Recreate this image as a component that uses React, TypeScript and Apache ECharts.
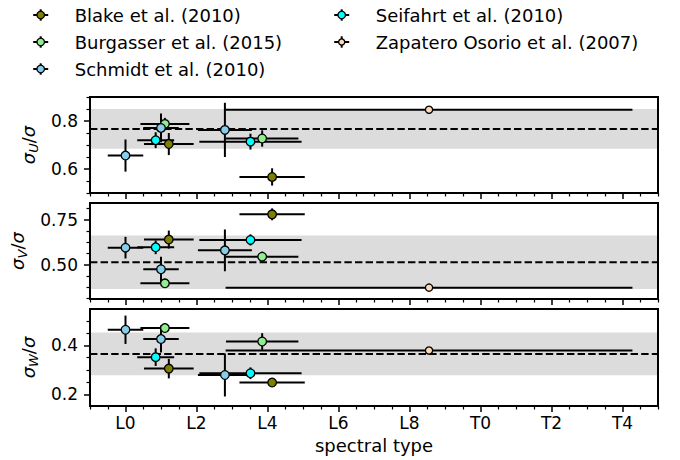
import React, { useEffect, useRef } from "react";
import * as echarts from "echarts";

// ---------------- data ----------------
const SOURCES = [
  "Blake et al. (2010)",
  "Burgasser et al. (2015)",
  "Schmidt et al. (2010)",
  "Seifahrt et al. (2010)",
  "Zapatero Osorio et al. (2007)",
];

// spectral type coded as L0 = 0, L2 = 2, ..., T0 = 10, T4 = 14
const blakeSpT = [1.22, 4.13];
const blakeSpTErr = [0.7, 0.92];
const blakeU = [0.704, 0.567];
const blakeUErr = [0.046, 0.036];
const blakeV = [0.641, 0.781];
const blakeVErr = [0.05, 0.033];
const blakeW = [0.305, 0.248];
const blakeWErr = [0.04, 0.015];

const burgasserSpT = [1.11, 3.85];
const burgasserSpTErr = [0.69, 1.02];
const burgasserU = [0.788, 0.727];
const burgasserUErr = [0.025, 0.034];
const burgasserV = [0.398, 0.546];
const burgasserVErr = [0.025, 0.028];
const burgasserW = [0.471, 0.416];
const burgasserWErr = [0.02, 0.034];

const schmidtSpT = [0.0, 1.0, 2.8];
const schmidtSpTErr = [0.5, 0.5, 0.76];
const schmidtU = [0.656, 0.771, 0.763];
const schmidtUErr = [0.067, 0.06, 0.113];
const schmidtV = [0.596, 0.476, 0.581];
const schmidtVErr = [0.06, 0.07, 0.116];
const schmidtW = [0.464, 0.426, 0.279];
const schmidtWErr = [0.058, 0.055, 0.088];

const seifahrtSpT = [0.85, 3.52];
const seifahrtSpTErr = [0.52, 1.44];
const seifahrtU = [0.72, 0.714];
const seifahrtUErr = [0.033, 0.033];
const seifahrtV = [0.598, 0.639];
const seifahrtVErr = [0.038, 0.031];
const seifahrtW = [0.352, 0.286];
const seifahrtWErr = [0.036, 0.024];

const zapateroSpT = [8.55];
const zapateroSpTErr = [5.73];
const zapateroU = [0.847];
const zapateroUErr = [0];
const zapateroV = [0.374];
const zapateroVErr = [0];
const zapateroW = [0.379];
const zapateroWErr = [0];

// mean and dispersion bands for sigma_U, sigma_V, sigma_W
const BAND_MEAN = [0.767, 0.515, 0.365];
const BAND_SIGMA = [0.083, 0.148, 0.0875];

const X_TICKS = [0, 2, 4, 6, 8, 10, 12, 14];
const X_TICK_LABELS = ["L0", "L2", "L4", "L6", "L8", "T0", "T2", "T4"];
const U_TICKS = [0.6, 0.8];
const U_TICK_LABELS = ["0.6", "0.8"];
const V_TICKS = [0.5, 0.75];
const V_TICK_LABELS = ["0.50", "0.75"];
const W_TICKS = [0.2, 0.4];
const W_TICK_LABELS = ["0.2", "0.4"];

// ---------------- styling ----------------
const FONT = "DejaVu Sans";
const TICK_FS = 17;
const LABEL_FS = 18;
const COLORS = ["#808000", "#90ee90", "#87ceeb", "#00ffff", "#ffdab9"];
const MARKER_SIZES = [8.6, 8.6, 8.6, 8.6, 7.2];
const X_MIN = -1;
const X_MAX = 15;
const GRID_LEFT = 90;
const GRID_WIDTH = 568;

const SRC = [
  { spt: blakeSpT, sptErr: blakeSpTErr, vals: [blakeU, blakeV, blakeW], errs: [blakeUErr, blakeVErr, blakeWErr] },
  { spt: burgasserSpT, sptErr: burgasserSpTErr, vals: [burgasserU, burgasserV, burgasserW], errs: [burgasserUErr, burgasserVErr, burgasserWErr] },
  { spt: schmidtSpT, sptErr: schmidtSpTErr, vals: [schmidtU, schmidtV, schmidtW], errs: [schmidtUErr, schmidtVErr, schmidtWErr] },
  { spt: seifahrtSpT, sptErr: seifahrtSpTErr, vals: [seifahrtU, seifahrtV, seifahrtW], errs: [seifahrtUErr, seifahrtVErr, seifahrtWErr] },
  { spt: zapateroSpT, sptErr: zapateroSpTErr, vals: [zapateroU, zapateroV, zapateroW], errs: [zapateroUErr, zapateroVErr, zapateroWErr] },
];

const PANELS = [
  { top: 97, height: 96, min: 0.5, max: 0.9, minorStep: 0.05, nameGap: 43, sub: "U", ticks: U_TICKS, labels: U_TICK_LABELS },
  { top: 203, height: 96, min: 0.311, max: 0.844, minorStep: 0.0625, nameGap: 52, sub: "V", ticks: V_TICKS, labels: V_TICK_LABELS },
  { top: 309, height: 97, min: 0.152, max: 0.549, minorStep: 0.05, nameGap: 43, sub: "W", ticks: W_TICKS, labels: W_TICK_LABELS },
];

function minorValues(min: number, max: number, step: number, majors: number[]) {
  const out: number[] = [];
  const start = Math.ceil(min / step - 1e-9);
  for (let k = start; k * step <= max + 1e-9; k++) {
    const v = +(k * step).toFixed(6);
    if (!majors.some((m) => Math.abs(m - v) < 1e-6)) out.push(v);
  }
  return out;
}

function buildOption() {
  const grid: any[] = [];
  const xAxis: any[] = [];
  const yAxis: any[] = [];
  const series: any[] = [];
  const xMinor = minorValues(X_MIN, X_MAX, 0.5, X_TICKS);

  PANELS.forEach((p, i) => {
    grid.push({
      left: GRID_LEFT,
      width: GRID_WIDTH,
      top: p.top,
      height: p.height,
      show: true,
      z: 10,
      borderColor: "#000",
      borderWidth: 2,
      backgroundColor: "transparent",
    });
    const isBottom = i === PANELS.length - 1;
    xAxis.push({
      type: "value",
      gridIndex: i,
      min: X_MIN,
      max: X_MAX,
      position: "bottom",
      z: 10,
      axisLine: { show: true, onZero: false, lineStyle: { color: "#000", width: 2 } },
      axisTick: { show: true, customValues: X_TICKS, length: 6, lineStyle: { color: "#000", width: 1.5 } },
      axisLabel: {
        show: isBottom,
        customValues: X_TICKS,
        formatter: (v: number) => {
          const k = X_TICKS.findIndex((t) => Math.abs(t - v) < 1e-6);
          return k >= 0 ? X_TICK_LABELS[k] : "";
        },
        fontSize: TICK_FS,
        fontFamily: FONT,
        color: "#000",
        margin: 8,
      },
      splitLine: { show: false },
      name: isBottom ? "spectral type" : "",
      nameLocation: "middle",
      nameGap: 30,
      nameTextStyle: { fontSize: LABEL_FS, fontFamily: FONT, color: "#000" },
    });
    xAxis.push({
      type: "value",
      gridIndex: i,
      min: X_MIN,
      max: X_MAX,
      position: "bottom",
      z: 10,
      axisLine: { show: false, onZero: false },
      axisTick: { show: true, customValues: xMinor, length: 3.5, lineStyle: { color: "#000", width: 1.2 } },
      axisLabel: { show: false },
      splitLine: { show: false },
    });
    yAxis.push({
      type: "value",
      gridIndex: i,
      min: p.min,
      max: p.max,
      position: "left",
      z: 10,
      axisLine: { show: true, onZero: false, lineStyle: { color: "#000", width: 2 } },
      axisTick: { show: true, customValues: p.ticks, length: 6, lineStyle: { color: "#000", width: 1.5 } },
      axisLabel: {
        show: true,
        customValues: p.ticks,
        formatter: (v: number) => {
          const k = p.ticks.findIndex((t) => Math.abs(t - v) < 1e-6);
          return k >= 0 ? p.labels[k] : "";
        },
        fontSize: TICK_FS,
        fontFamily: FONT,
        color: "#000",
        margin: 12,
      },
      splitLine: { show: false },
      name: `{i|σ}{s|${p.sub}}{n|/}{i|σ}`,
      nameLocation: "middle",
      nameRotate: 90,
      nameGap: p.nameGap,
      nameTextStyle: {
        color: "#000",
        rich: {
          i: { fontSize: LABEL_FS, fontStyle: "italic", fontFamily: FONT, color: "#000", lineHeight: 24 },
          n: { fontSize: LABEL_FS, fontFamily: FONT, color: "#000", lineHeight: 24 },
          s: { fontSize: 13, fontStyle: "italic", fontFamily: FONT, color: "#000", lineHeight: 13, verticalAlign: "bottom" },
        },
      },
    });
    yAxis.push({
      type: "value",
      gridIndex: i,
      min: p.min,
      max: p.max,
      position: "left",
      z: 10,
      axisLine: { show: false, onZero: false },
      axisTick: { show: true, customValues: minorValues(p.min, p.max, p.minorStep, p.ticks), length: 3.5, lineStyle: { color: "#000", width: 1.2 } },
      axisLabel: { show: false },
      splitLine: { show: false },
    });

    // band + mean line
    series.push({
      type: "custom",
      xAxisIndex: 2 * i,
      yAxisIndex: 2 * i,
      silent: true,
      data: [[BAND_MEAN[i], BAND_SIGMA[i]]],
      encode: { y: 0 },
      renderItem: (_params: any, api: any) => {
        const m = api.value(0);
        const s = api.value(1);
        const tl = api.coord([X_MIN, m + s]);
        const br = api.coord([X_MAX, m - s]);
        const ml = api.coord([X_MIN, m]);
        const mr = api.coord([X_MAX, m]);
        return {
          type: "group",
          children: [
            { type: "rect", shape: { x: tl[0], y: tl[1], width: br[0] - tl[0], height: br[1] - tl[1] }, style: { fill: "#dcdcdc" } },
            { type: "line", shape: { x1: ml[0], y1: ml[1], x2: mr[0], y2: mr[1] }, style: { stroke: "#000", lineWidth: 2, lineDash: [7.4, 3.2] } },
          ],
        };
      },
    });

    SRC.forEach((src, s) => {
      const vals = src.vals[i];
      const errs = src.errs[i];
      series.push({
        type: "custom",
        name: SOURCES[s],
        xAxisIndex: 2 * i,
        yAxisIndex: 2 * i,
        silent: true,
        clip: true,
        data: src.spt.map((x, k) => [x, vals[k], src.sptErr[k], errs[k]]),
        encode: { x: 0, y: 1 },
        renderItem: (_params: any, api: any) => {
          const x = api.value(0);
          const y = api.value(1);
          const xe = api.value(2);
          const ye = api.value(3);
          const c = api.coord([x, y]);
          const l = api.coord([x - xe, y]);
          const r = api.coord([x + xe, y]);
          const t = api.coord([x, y + ye]);
          const b = api.coord([x, y - ye]);
          const st = { stroke: "#000", lineWidth: 2 };
          const ch: any[] = [{ type: "line", shape: { x1: l[0], y1: c[1], x2: r[0], y2: c[1] }, style: st }];
          if (ye > 0) ch.push({ type: "line", shape: { x1: c[0], y1: t[1], x2: c[0], y2: b[1] }, style: st });
          return { type: "group", children: ch };
        },
      });
      series.push({
        type: "scatter",
        name: SOURCES[s],
        xAxisIndex: 2 * i,
        yAxisIndex: 2 * i,
        silent: true,
        data: src.spt.map((x, k) => [x, vals[k]]),
        symbol: "circle",
        symbolSize: MARKER_SIZES[s],
        itemStyle: { color: COLORS[s], borderColor: "#000", borderWidth: 1.3, opacity: 1 },
      });
    });
  });

  // legend drawn as graphic
  const LEGEND_POS = [
    [40.7, 15],
    [40.7, 42],
    [40.7, 69],
    [341.7, 15],
    [341.7, 42],
  ];
  const graphic: any[] = [];
  SOURCES.forEach((name, s) => {
    const [mx, my] = LEGEND_POS[s];
    graphic.push({
      type: "group",
      x: mx,
      y: my,
      children: [
        { type: "line", shape: { x1: -7.5, y1: 0, x2: 7.5, y2: 0 }, style: { stroke: "#000", lineWidth: 2 } },
        { type: "line", shape: { x1: 0, y1: -5.7, x2: 0, y2: 5.7 }, style: { stroke: "#000", lineWidth: 2 } },
        { type: "circle", shape: { cx: 0, cy: 0, r: MARKER_SIZES[s] / 2 - 0.5 }, style: { fill: COLORS[s], stroke: "#000", lineWidth: 1.3 } },
      ],
    });
    graphic.push({
      type: "text",
      x: mx + 34,
      y: my,
      style: { text: name, fill: "#000", fontSize: LABEL_FS, fontFamily: FONT, verticalAlign: "middle", align: "left" },
    });
  });

  return {
    animation: false,
    backgroundColor: "#ffffff",
    textStyle: { fontFamily: FONT },
    grid,
    xAxis,
    yAxis,
    series,
    graphic,
  };
}

export default function App() {
  const ref = useRef<HTMLDivElement>(null);
  useEffect(() => {
    document.body.style.margin = "0";
    if (!ref.current) return;
    const chart = echarts.init(ref.current, null, { renderer: "svg" });
    chart.setOption(buildOption() as any);
    return () => {
      chart.dispose();
    };
  }, []);
  return <div ref={ref} style={{ width: 680, height: 460 }} />;
}
